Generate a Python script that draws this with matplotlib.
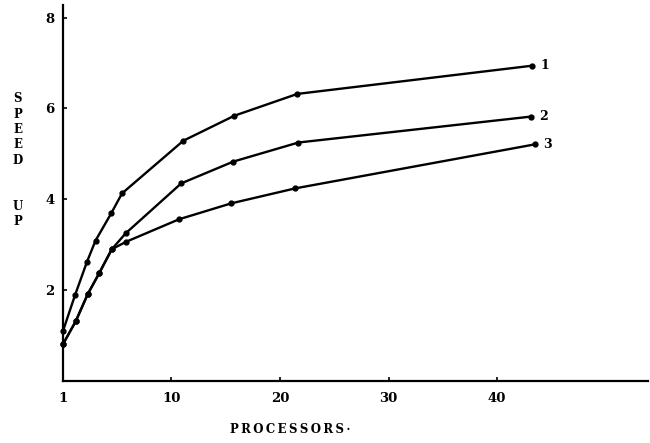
import numpy as np
import matplotlib.pyplot as plt

# values
procs_1 = [1, 2, 3, 3.7, 5, 5.9, 11.1, 15.8, 21.6, 43.2]
speedup_1 = [1.10, 1.89, 2.63, 3.09, 3.69, 4.13, 5.29, 5.84, 6.32, 6.94]

procs_2 = [1, 2.05, 3.05, 4, 5.05, 6.2, 10.9, 15.7, 21.7, 43.1]
speedup_2 = [0.81, 1.31, 1.91, 2.37, 2.90, 3.25, 4.35, 4.83, 5.25, 5.82]

procs_3 = [1, 2.05, 3.05, 4, 5.05, 6.2, 10.7, 15.5, 21.4, 43.5]
speedup_3 = [0.81, 1.31, 1.91, 2.37, 2.90, 3.06, 3.56, 3.91, 4.24, 5.21]

curve_names = ['1', '2', '3']
x_ticks = [1, 10, 20, 30, 40]
y_ticks = [2, 4, 6, 8]


# the hand drawn axis is stretched between 1 and 10
def fwd(x):
    x = np.asarray(x, dtype=float)
    return np.where(x < 10, 10 - (10 - x) * 12.1 / 10.9, x)


def inv(y):
    y = np.asarray(y, dtype=float)
    return np.where(y < 10, 10 - (10 - y) * 10.9 / 12.1, y)


plt.rcParams['font.family'] = ['DejaVu Serif']
plt.rcParams['font.weight'] = 'bold'

fig = plt.figure(figsize=(6.5, 4.43), dpi=100)
ax = fig.add_axes([0.0969, 0.14, 0.9, 0.849])
ax.set_xscale('function', functions=(fwd, inv))

series = [(procs_1, speedup_1), (procs_2, speedup_2), (procs_3, speedup_3)]
for (xs, ys), name in zip(series, curve_names):
    ax.plot(xs, ys, color='black', lw=1.7, marker='o', markersize=3.5,
            clip_on=False)
    ax.annotate(name, (xs[-1], ys[-1]), xytext=(6, 0), textcoords='offset points',
                ha='left', va='center', fontsize=9, fontweight='bold')

ax.set_xlim(1, 53.9)
ax.set_ylim(0, 8.28)
ax.set_xticks(x_ticks)
ax.set_xticklabels([str(t) for t in x_ticks])
ax.set_xticks([], minor=True)
ax.set_yticks(y_ticks)
ax.tick_params(direction='in', length=3, width=1.2, labelsize=9.5, pad=8)
ax.tick_params(axis='y', pad=6)

for side in ['top', 'right']:
    ax.spines[side].set_visible(False)
for side in ['left', 'bottom']:
    ax.spines[side].set_linewidth(1.6)

fig.text(0.447, 0.03, '\u2009'.join('PROCESSORS') + '\u2009·', ha='center',
         va='center', fontsize=8.5, fontweight='bold')
fig.text(0.027, 0.792, 'S\nP\nE\nE\nD\n\n\nU\nP', ha='center', va='top',
         fontsize=8.5, fontweight='bold', linespacing=1.24)

fig.savefig('out.png', dpi=100)
